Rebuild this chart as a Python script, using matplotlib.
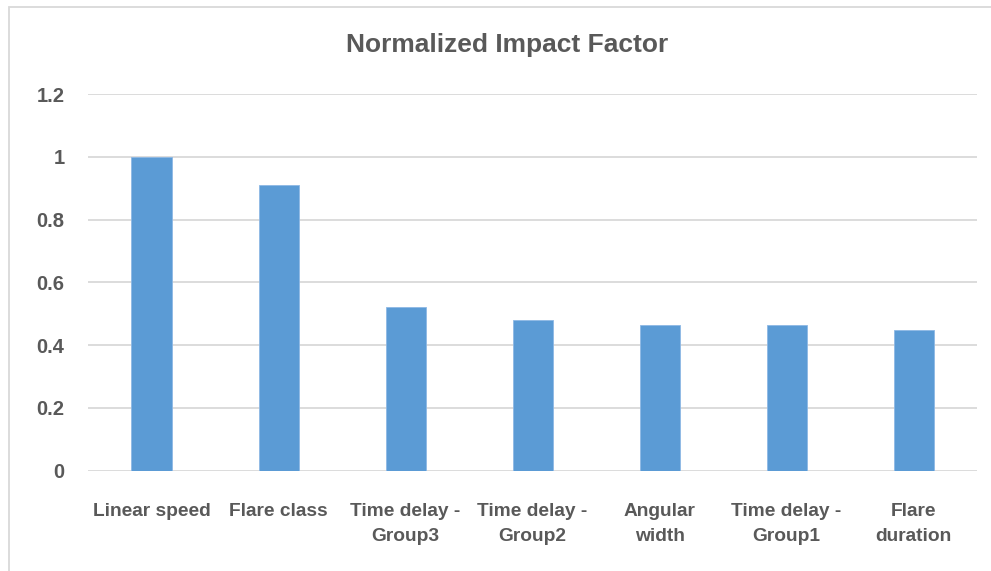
import matplotlib.pyplot as plt
from matplotlib.patches import Rectangle
import numpy as np

categories = ['Linear speed', 'Flare class', 'Time delay -\nGroup3', 'Time delay -\nGroup2',
              'Angular\nwidth', 'Time delay -\nGroup1', 'Flare\nduration']
impact = [1.0, 0.91, 0.522, 0.479, 0.465, 0.463, 0.447]
yticks = [0, 0.2, 0.4, 0.6, 0.8, 1.0, 1.2]
ytick_labels = ['0', '0.2', '0.4', '0.6', '0.8', '1', '1.2']

plt.rcParams['font.family'] = ['Liberation Sans', 'DejaVu Sans']
text_color = '#595959'

fig = plt.figure(figsize=(9.91, 5.71), dpi=100)
ax = fig.add_axes([0.0888, 0.1757, 0.8971, 0.6593])

x = np.arange(len(categories))
ax.bar(x, impact, width=0.315, color='#5B9BD5', edgecolor='#8DB8E5', linewidth=0.6, zorder=3)

ax.set_xlim(-0.5, len(categories) - 0.5)
ax.set_ylim(0, 1.2)
ax.set_yticks(yticks)
ax.set_yticklabels(ytick_labels)
ax.set_xticks(x)
ax.set_xticklabels(categories, linespacing=1.65)
ax.tick_params(axis='y', length=0, pad=17, labelsize=14.5, labelcolor=text_color)
ax.tick_params(axis='x', length=0, pad=23, labelsize=13.8, labelcolor=text_color)
for lab in ax.get_xticklabels() + ax.get_yticklabels():
    lab.set_fontweight('bold')

ax.grid(axis='y', color='#D9D9D9', linewidth=1.3, zorder=0)
for s in ax.spines.values():
    s.set_visible(False)

fig.text(507 / 991, 1 - 45 / 571, 'Normalized Impact Factor', fontsize=19, fontweight='bold',
         color=text_color, ha='center', va='center')

# light frame round the chart area
fig.patches.append(Rectangle((9 / 991, -0.01), 1.0, 1 - 7 / 571 + 0.01, transform=fig.transFigure,
                             fill=False, edgecolor='#D9D9D9', linewidth=1.3))

fig.savefig('out.png', dpi=100)
